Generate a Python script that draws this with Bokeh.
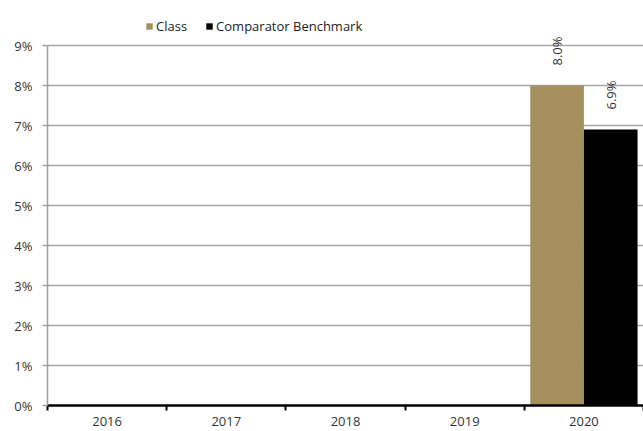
import math
from bokeh.plotting import figure
from bokeh.models import (Range1d, FixedTicker, ColumnDataSource, Legend, LegendItem)
from bokeh.transform import dodge
from bokeh.core.properties import value
from bokeh.embed import file_html
from bokeh.resources import INLINE

years = ["2016", "2017", "2018", "2019", "2020"]
class_vals = [None, None, None, None, 8.0]
bench_vals = [None, None, None, None, 6.9]
y_ticks = [0, 1, 2, 3, 4, 5, 6, 7, 8, 9]
y_tick_labels = ["0%", "1%", "2%", "3%", "4%", "5%", "6%", "7%", "8%", "9%"]
series_names = ["Class", "Comparator Benchmark"]
series_colors = ["#A68F5F", "#000000"]

FONT = "Open Sans"
n = len(years)
centers = [i + 0.5 for i in range(n)]
edges = [float(i) for i in range(n + 1)]

p = figure(width=643, height=431, x_range=Range1d(0, n),
           y_range=Range1d(0, 10.075), output_backend="svg", toolbar_location=None,
           min_border_left=47, min_border_right=0,
           min_border_top=2, min_border_bottom=26)
p.outline_line_color = None
p.background_fill_color = "white"
p.border_fill_color = "white"

# y axis
ya = p.yaxis[0]
ya.bounds = (y_ticks[0], y_ticks[-1])
ya.ticker = FixedTicker(ticks=y_ticks)
ya.major_label_overrides = {t: l for t, l in zip(y_ticks, y_tick_labels)}
ya.axis_line_color = "#A0A0A0"
ya.axis_line_width = 1.5
ya.major_tick_line_color = "#A0A0A0"
ya.major_tick_line_width = 1.5
ya.major_tick_in = 0
ya.major_tick_out = 5
ya.minor_tick_line_color = None
ya.major_label_standoff = 10
ya.major_label_text_font = FONT
ya.major_label_text_font_size = "13px"
ya.major_label_text_color = "#333333"

p.ygrid.ticker = FixedTicker(ticks=y_ticks)
p.ygrid.grid_line_color = "#A6A6A6"
p.ygrid.grid_line_width = 1.5
p.xgrid.grid_line_color = None

# x axis: labels at category centres, tick marks (minor) at category boundaries
xa = p.xaxis[0]
xa.ticker = FixedTicker(ticks=centers, minor_ticks=edges)
xa.major_label_overrides = {c: y for c, y in zip(centers, years)}
xa.axis_line_color = "black"
xa.axis_line_width = 2.5
xa.major_tick_line_color = None
xa.major_tick_out = 0
xa.major_tick_in = 0
xa.minor_tick_line_color = "black"
xa.minor_tick_line_width = 2
xa.minor_tick_in = 0
xa.minor_tick_out = 5
xa.major_label_standoff = 6
xa.major_label_text_font = FONT
xa.major_label_text_font_size = "13px"
xa.major_label_text_color = "#333333"

# bars
offsets = [-0.225, 0.225]
renderers = []
for vals, off, color in zip([class_vals, bench_vals], offsets, series_colors):
    xs = [c for c, v in zip(centers, vals) if v is not None]
    vs = [v for v in vals if v is not None]
    src = ColumnDataSource(dict(x=xs, top=vs, lab=[f"{v:.1f}%" for v in vs]))
    r = p.vbar(x=dodge("x", off), top="top", width=0.45,
               source=src, fill_color=color, line_color=None)
    renderers.append(r)
    p.text(x=dodge("x", off), y="top", text="lab", source=src,
           angle=math.pi / 2, text_align="left", text_baseline="middle",
           y_offset=-20, text_font=value(FONT), text_font_size="13px",
           text_color="#333333")

legend = Legend(items=[LegendItem(label=nm, renderers=[r]) for nm, r in zip(series_names, renderers)],
                orientation="horizontal", location=(98, 370))
legend.border_line_color = None
legend.background_fill_alpha = 0
legend.label_text_font = FONT
legend.label_text_font_size = "13px"
legend.label_text_color = "#222222"
legend.glyph_width = 8
legend.glyph_height = 8
legend.label_standoff = 3
legend.spacing = 18
legend.padding = 2
legend.margin = 0
legend.label_height = 14
p.add_layout(legend)

open("out.html", "w").write(file_html(p, INLINE))
